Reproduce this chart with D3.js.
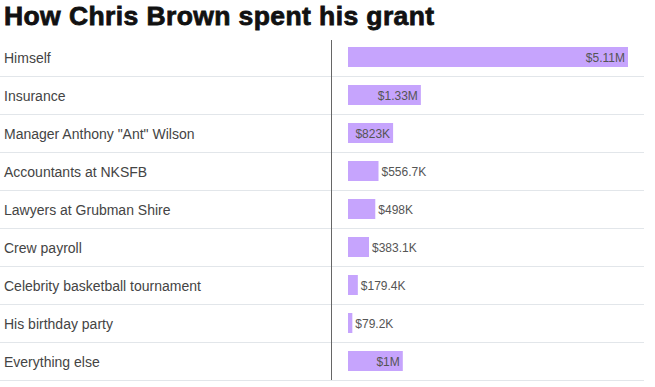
<!DOCTYPE html>
<html>
<head>
<meta charset="utf-8">
<script src="https://cdn.jsdelivr.net/npm/d3@7.9.0/dist/d3.min.js"></script>
<style>
  body { margin: 0; background: #fff; }
  svg { display: block; font-family: "Liberation Sans", Arial, sans-serif; }
</style>
</head>
<body>
<div id="chart"></div>
<script>
const categories = ['Himself', 'Insurance', 'Manager Anthony "Ant" Wilson', 'Accountants at NKSFB',
  'Lawyers at Grubman Shire', 'Crew payroll', 'Celebrity basketball tournament',
  'His birthday party', 'Everything else'];
const amounts = [5110000, 1330000, 823000, 556700, 498000, 383100, 179400, 79200, 1000000];
const labels = ['$5.11M', '$1.33M', '$823K', '$556.7K', '$498K', '$383.1K', '$179.4K', '$79.2K', '$1M'];

const data = categories.map((c, i) => ({ category: c, amount: amounts[i], label: labels[i] }));

const width = 655, height = 387;
const svg = d3.select('#chart').append('svg')
  .attr('width', width).attr('height', height);

// title - a bit of stroke to get closer to the heavy face in the original
svg.append('text')
  .attr('x', 4).attr('y', 25)
  .attr('font-size', 26.5)
  .attr('font-weight', 900)
  .attr('letter-spacing', 0.4)
  .attr('fill', '#111')
  .attr('stroke', '#111')
  .attr('stroke-width', 0.8)
  .text('How Chris Brown spent his grant');

const y = d3.scaleBand()
  .domain(categories)
  .range([38, 380]);

const x = d3.scaleLinear()
  .domain([0, d3.max(amounts)])
  .range([348, 628]);

// row separators
svg.append('g')
  .selectAll('line')
  .data(categories)
  .join('line')
  .attr('x1', 0).attr('x2', 644)
  .attr('y1', d => y(d) + y.bandwidth() + 0.5)
  .attr('y2', d => y(d) + y.bandwidth() + 0.5)
  .attr('stroke', '#e2e6ea')
  .attr('stroke-width', 1);

// category labels
svg.append('g')
  .selectAll('text')
  .data(data)
  .join('text')
  .attr('x', 4)
  .attr('y', d => y(d.category) + y.bandwidth() / 2 + 6)
  .attr('font-size', 14)
  .attr('fill', '#444')
  .text(d => d.category);

// divider
svg.append('line')
  .attr('x1', 331.5).attr('x2', 331.5)
  .attr('y1', 40).attr('y2', 380)
  .attr('stroke', '#666');

const barH = 20;
const bars = svg.append('g');
bars.selectAll('rect')
  .data(data)
  .join('rect')
  .attr('x', x(0))
  .attr('y', d => y(d.category) + y.bandwidth() / 2 - barH / 2)
  .attr('width', d => x(d.amount) - x(0))
  .attr('height', barH)
  .attr('fill', '#c6a4fd');

// value labels: inside the bar when they fit, otherwise just past its end
const valueLabels = svg.append('g')
  .selectAll('text')
  .data(data)
  .join('text')
  .attr('y', d => y(d.category) + y.bandwidth() / 2 + 5)
  .attr('font-size', 12)
  .attr('fill', '#555')
  .text(d => d.label);

valueLabels.each(function (d) {
  const w = this.getComputedTextLength();
  const barW = x(d.amount) - x(0);
  const t = d3.select(this);
  if (w + 6 <= barW) {
    t.attr('x', x(d.amount) - 3).attr('text-anchor', 'end');
  } else {
    t.attr('x', x(d.amount) + 3).attr('text-anchor', 'start');
  }
});
</script>
</body>
</html>
